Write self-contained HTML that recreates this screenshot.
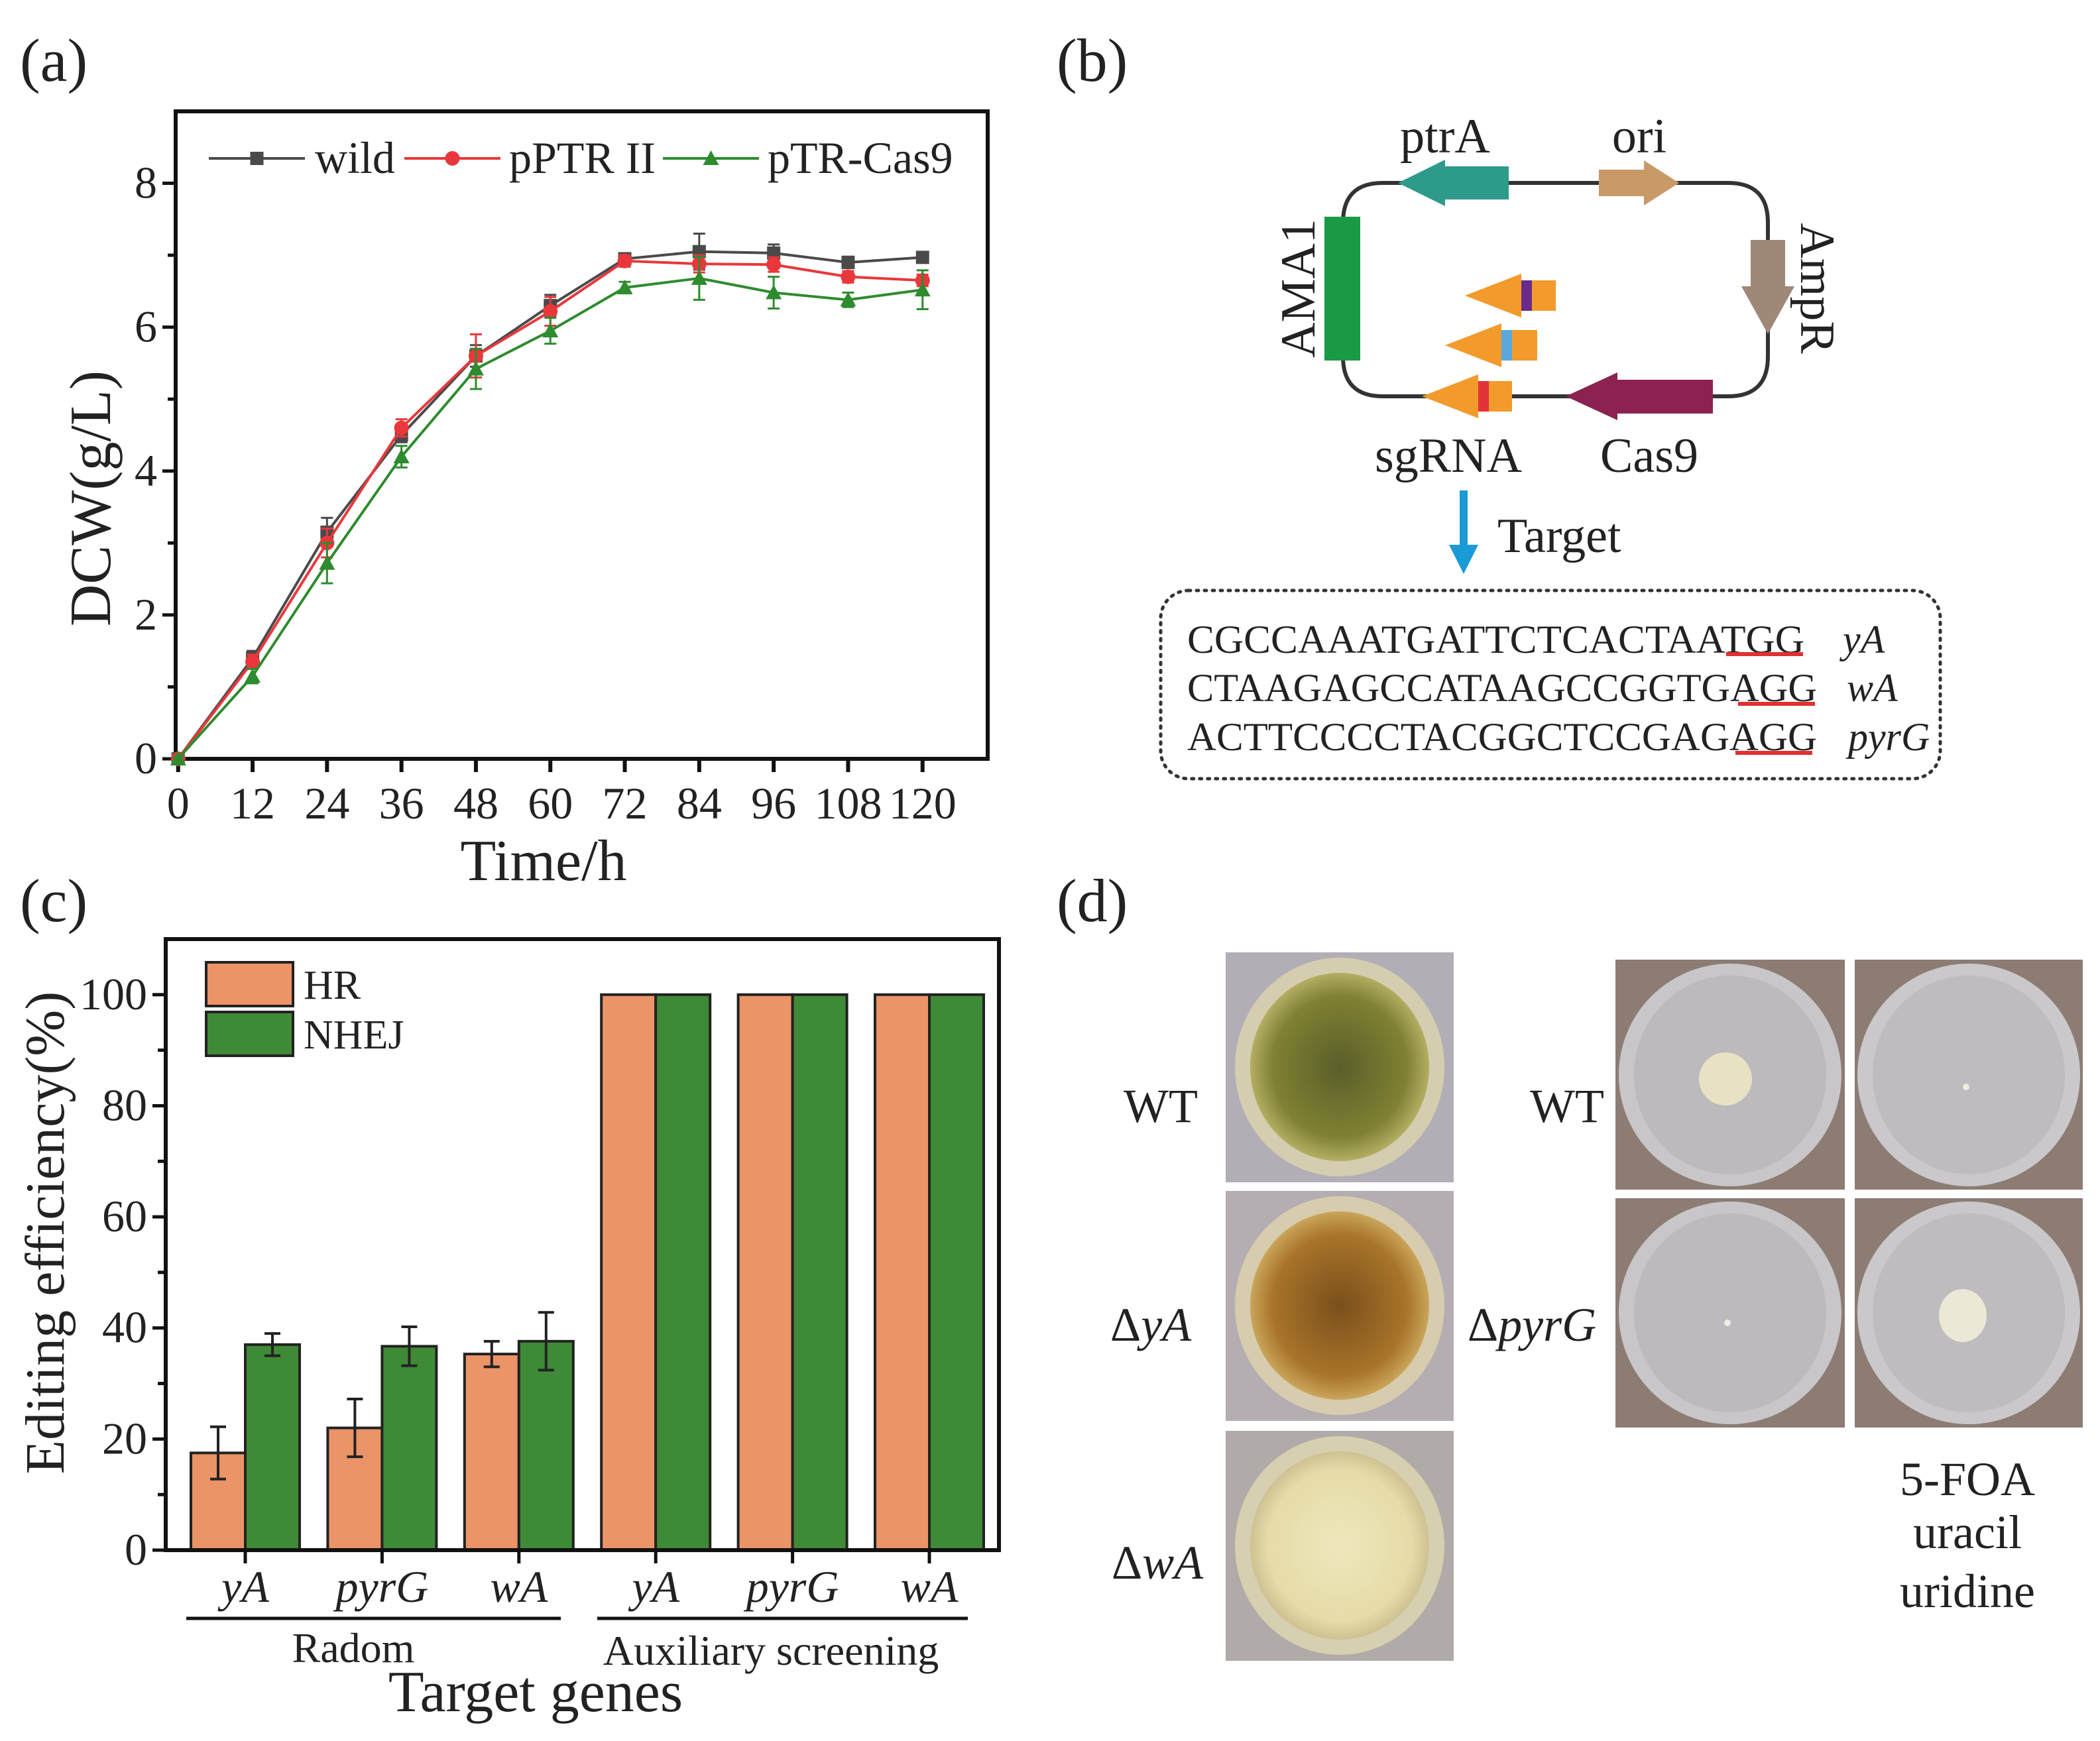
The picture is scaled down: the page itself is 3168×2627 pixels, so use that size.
<!DOCTYPE html>
<html><head><meta charset="utf-8"><style>
html,body{margin:0;padding:0;background:#fff}
svg{display:block}
svg text, svg tspan{font-family:"Liberation Serif","Times New Roman",serif !important;fill:#222}
</style></head><body>
<svg id="fig" width="3168" height="2627" viewBox="0 0 3168 2627" xmlns="http://www.w3.org/2000/svg" font-family="Liberation Serif, serif">
<defs>
<radialGradient id="gWT" cx="50%" cy="50%" r="50%"><stop offset="0" stop-color="#5a5e2a"/><stop offset="0.75" stop-color="#7f8132"/><stop offset="1" stop-color="#b4ae62"/></radialGradient>
<radialGradient id="gYA" cx="50%" cy="50%" r="50%"><stop offset="0" stop-color="#7a4f1c"/><stop offset="0.75" stop-color="#a8742a"/><stop offset="1" stop-color="#c9a55a"/></radialGradient>
<radialGradient id="gWA" cx="50%" cy="50%" r="50%"><stop offset="0" stop-color="#efe6bc"/><stop offset="0.8" stop-color="#e6dca8"/><stop offset="1" stop-color="#cfc192"/></radialGradient>
</defs>
<g id="panelA"></g>
<g id="panelB">
<text x="1594" y="122" font-size="92">(b)</text>
<path d="M2100 276 H2086 Q2026 276 2026 336 V538 Q2026 598 2086 598 H2607 Q2667 598 2667 538 V336 Q2667 276 2607 276 Z" fill="none" stroke="#333" stroke-width="6"/>
<rect x="1998" y="327" width="54" height="217" fill="#1a9a44"/>
<polygon points="2109,276 2180,241 2180,251 2276,251 2276,301 2180,301 2180,311" fill="#2e9a8a"/>
<polygon points="2412,256 2480,256 2480,242 2533,276 2480,310 2480,296 2412,296" fill="#c89a68"/>
<polygon points="2641,362 2693,362 2693,432 2707,432 2667,504 2627,432 2641,432" fill="#a08878"/>
<polygon points="2362,598 2440,562 2440,573 2584,573 2584,624 2440,624 2440,634" fill="#8b2252"/>
<g>
<polygon points="2145,598 2230,565 2230,575 2281,575 2281,621 2230,621 2230,631" fill="#f39a2c"/>
<rect x="2230" y="575" width="16" height="46" fill="#e2333a"/>
<polygon points="2180,521 2265,488 2265,498 2319,498 2319,544 2265,544 2265,554" fill="#f39a2c"/>
<rect x="2265" y="498" width="16" height="46" fill="#5aa8dc"/>
<polygon points="2210,446 2295,413 2295,423 2347,423 2347,469 2295,469 2295,479" fill="#f39a2c"/>
<rect x="2295" y="423" width="16" height="46" fill="#6a2a8a"/>
</g>
<text x="2180" y="230" font-size="74" text-anchor="middle">ptrA</text>
<text x="2473" y="230" font-size="74" text-anchor="middle">ori</text>
<text transform="translate(1983,435) rotate(-90)" font-size="74" text-anchor="middle">AMA1</text>
<text transform="translate(2717,435) rotate(90)" font-size="74" text-anchor="middle">AmpR</text>
<text x="2185" y="712" font-size="74" text-anchor="middle">sgRNA</text>
<text x="2488" y="712" font-size="74" text-anchor="middle">Cas9</text>
<line x1="2208" y1="740" x2="2208" y2="835" stroke="#1a9ad6" stroke-width="12"/>
<polygon points="2186,822 2230,822 2208,866" fill="#1a9ad6"/>
<text x="2259" y="833" font-size="74">Target</text>
<rect x="1751" y="891" width="1176" height="284" rx="42" fill="none" stroke="#333" stroke-width="5" stroke-dasharray="3,9" stroke-linecap="round"/>
<g font-size="60">
<text x="1791" y="985" textLength="931" lengthAdjust="spacingAndGlyphs">CGCCAAATGATTCTCACTAATGG</text>
<text x="2780" y="985" font-style="italic">yA</text>
<text x="1791" y="1058" textLength="950" lengthAdjust="spacingAndGlyphs">CTAAGAGCCATAAGCCGGTGAGG</text>
<text x="2786" y="1058" font-style="italic">wA</text>
<text x="1791" y="1132" textLength="950" lengthAdjust="spacingAndGlyphs">ACTTCCCCTACGGCTCCGAGAGG</text>
<text x="2788" y="1132" font-style="italic">pyrG</text>
</g>
<line x1="2604" y1="987" x2="2720" y2="987" stroke="#e03030" stroke-width="6"/>
<line x1="2622" y1="1062" x2="2738" y2="1062" stroke="#e03030" stroke-width="6"/>
<line x1="2618" y1="1136" x2="2734" y2="1136" stroke="#e03030" stroke-width="6"/>
</g>
<g id="panelC"></g>
<g id="panelD">
<text x="1594" y="1390" font-size="92">(d)</text>
<g><rect x="1849" y="1437" width="344" height="347" fill="#b2aeb6"/><ellipse cx="2021" cy="1610" rx="158" ry="165" fill="#d4cdb0"/><ellipse cx="2021" cy="1610" rx="135" ry="142" fill="url(#gWT)"/></g>
<g><rect x="1849" y="1797" width="344" height="347" fill="#b4aeb2"/><ellipse cx="2021" cy="1970" rx="158" ry="165" fill="#d8ccae"/><ellipse cx="2021" cy="1970" rx="135" ry="142" fill="url(#gYA)"/></g>
<g><rect x="1849" y="2159" width="344" height="347" fill="#b0aaa8"/><ellipse cx="2021" cy="2332" rx="158" ry="165" fill="#d6cfb0"/><ellipse cx="2021" cy="2332" rx="135" ry="142" fill="url(#gWA)"/></g>
<g><rect x="2437" y="1448" width="346" height="347" fill="#8c7c74"/><ellipse cx="2610" cy="1622" rx="168" ry="168" fill="#c8c6c8"/><ellipse cx="2610" cy="1622" rx="145" ry="150" fill="#bcbabc"/><circle cx="2603" cy="1628" r="40" fill="#e8e2c4"/></g>
<g><rect x="2798" y="1448" width="344" height="347" fill="#8c7c74"/><ellipse cx="2970" cy="1622" rx="168" ry="168" fill="#cac8ca"/><ellipse cx="2970" cy="1622" rx="145" ry="150" fill="#bebcbe"/><circle cx="2966" cy="1640" r="5" fill="#f0eee0"/></g>
<g><rect x="2437" y="1808" width="346" height="346" fill="#8c7c74"/><ellipse cx="2610" cy="1981" rx="168" ry="168" fill="#c8c6c8"/><ellipse cx="2610" cy="1981" rx="145" ry="150" fill="#bcbabc"/><circle cx="2606" cy="1996" r="5" fill="#f0eee0"/></g>
<g><rect x="2798" y="1808" width="344" height="346" fill="#8c7c74"/><ellipse cx="2970" cy="1981" rx="168" ry="168" fill="#cac8ca"/><ellipse cx="2970" cy="1981" rx="145" ry="150" fill="#bebcbe"/><ellipse cx="2961" cy="1985" rx="36" ry="40" fill="#ece8d8"/></g>
<g font-size="72" text-anchor="middle">
<text x="1751" y="1693">WT</text>
<text x="1736" y="2023">Δ<tspan font-style="italic">yA</tspan></text>
<text x="1746" y="2382">Δ<tspan font-style="italic">wA</tspan></text>
<text x="2364" y="1693">WT</text>
<text x="2311" y="2023">Δ<tspan font-style="italic">pyrG</tspan></text>
<text x="2968" y="2256">5-FOA</text>
<text x="2968" y="2336">uracil</text>
<text x="2968" y="2425">uridine</text>
</g>
</g>
</svg>
<script>
const NS="http://www.w3.org/2000/svg";
function mk(parent,tag,attrs,txt){const e=document.createElementNS(NS,tag);for(const k in attrs)e.setAttribute(k,attrs[k]);if(txt!==undefined)e.textContent=txt;parent.appendChild(e);return e;}

// ---------- Panel A data ----------
const timeH=[0,12,24,36,48,60,72,84,96,108,120];
const wildVals=[0,1.4,3.15,4.5,5.6,6.3,6.95,7.05,7.03,6.9,6.97];
const wildErr=[0.03,0.1,0.2,0.1,0.15,0.15,0.08,0.25,0.12,0.08,0.06];
const pptrVals=[0,1.35,3.0,4.6,5.6,6.22,6.92,6.88,6.87,6.7,6.65];
const pptrErr=[0.03,0.1,0.2,0.12,0.3,0.2,0.08,0.12,0.1,0.08,0.08];
const cas9Vals=[0,1.15,2.72,4.2,5.42,5.95,6.55,6.68,6.48,6.38,6.52];
const cas9Err=[0.03,0.1,0.28,0.15,0.28,0.18,0.08,0.3,0.22,0.1,0.27];
const xTicksA=[0,12,24,36,48,60,72,84,96,108,120];
const yTicksA=[0,2,4,6,8];

const A=document.getElementById('panelA');
const aL=265,aR=1490,aT=168,aB=1145,xMinA=-0.4,xMaxA=130.5,yMaxA=9;
const ax=v=>aL+(v-xMinA)/(xMaxA-xMinA)*(aR-aL);
const ay=v=>aB-v/yMaxA*(aB-aT);
let t=mk(A,'text',{x:30,y:122,'font-size':92});t.textContent='(a)';


const boxA=mk(A,'rect',{x:aL,y:aT,width:aR-aL,height:aB-aT,fill:'none',stroke:'#111','stroke-width':6});


xTicksA.forEach(v=>{
  mk(A,'line',{x1:ax(v),y1:aB,x2:ax(v),y2:aB+20,stroke:'#111','stroke-width':6});
  const l=mk(A,'text',{x:ax(v),y:aB+90,'font-size':68,'text-anchor':'middle'},String(v));
  
  
});
for(let v=0;v<=8;v++){mk(A,'line',{x1:aL,y1:ay(v),x2:aL-(v%2===0?20:12),y2:ay(v),stroke:'#111','stroke-width':5});}
yTicksA.forEach(v=>{
  const l=mk(A,'text',{x:aL-28,y:ay(v)+22,'font-size':68,'text-anchor':'end'},String(v));
  
  
});
t=mk(A,'text',{x:820,y:1328,'font-size':88,'text-anchor':'middle'},'Time/h');


t=mk(A,'text',{transform:'translate(166,752) rotate(-90)','font-size':88,'text-anchor':'middle'},'DCW(g/L)');



function marker(g,type,x,y,c){
  if(type==='sq')return mk(g,'rect',{x:x-10,y:y-10,width:20,height:20,fill:c});
  if(type==='ci')return mk(g,'circle',{cx:x,cy:y,r:11,fill:c});
  return mk(g,'polygon',{points:`${x},${y-12} ${x+12},${y+10} ${x-12},${y+10}`,fill:c});
}
const seriesA=[
  {name:'wild',vals:wildVals,err:wildErr,col:'#4a4a4a',m:'sq'},
  {name:'pPTR II',vals:pptrVals,err:pptrErr,col:'#e8383c',m:'ci'},
  {name:'pTR-Cas9',vals:cas9Vals,err:cas9Err,col:'#2e8b2e',m:'tr'}];
seriesA.forEach(s=>{
  const g=mk(A,'g',{});
  
  
  const pts=timeH.map((h,i)=>ax(h)+','+ay(s.vals[i])).join(' ');
  mk(g,'polyline',{points:pts,fill:'none',stroke:s.col,'stroke-width':4});
  timeH.forEach((h,i)=>{
    const x=ax(h),y1=ay(s.vals[i]+s.err[i]),y2=ay(s.vals[i]-s.err[i]);
    mk(g,'line',{x1:x,y1:y1,x2:x,y2:y2,stroke:s.col,'stroke-width':3});
    mk(g,'line',{x1:x-9,y1:y1,x2:x+9,y2:y1,stroke:s.col,'stroke-width':3});
    mk(g,'line',{x1:x-9,y1:y2,x2:x+9,y2:y2,stroke:s.col,'stroke-width':3});
    const p=marker(g,s.m,x,ay(s.vals[i]),s.col);
    
    
  });
});
const legX=[[315,460,475],[610,755,768],[1000,1145,1158]];
seriesA.forEach((s,i)=>{
  const g=mk(A,'g',{});
  
  
  const [x1,x2,tx]=legX[i],y=239;
  mk(g,'line',{x1:x1,y1:y,x2:x2,y2:y,stroke:s.col,'stroke-width':4});
  marker(g,s.m,(x1+x2)/2,y,s.col);
  mk(g,'text',{x:tx,y:y+22,'font-size':68},s.name);
});

// ---------- Panel C data ----------
const genes=['yA','pyrG','wA','yA','pyrG','wA'];
const hrVals=[17.5,22,35.3,100,100,100];
const hrErr=[4.7,5.2,2.3,0,0,0];
const nhejVals=[37,36.7,37.6,100,100,100];
const nhejErr=[2,3.5,5.2,0,0,0];
const yTicksC=[0,20,40,60,80,100];

const C=document.getElementById('panelC');
const cL=250,cR=1507,cT=1417,cB=2339,yMaxC=110;
const cy=v=>cB-v/yMaxC*(cB-cT);
const cx=i=>370+i*206.4;
const bw=82;
t=mk(C,'text',{x:30,y:1390,'font-size':92},'(c)');


genes.forEach((g,i)=>{
  const x=cx(i);
  const b1=mk(C,'rect',{x:x-bw,y:cy(hrVals[i]),width:bw,height:cB-cy(hrVals[i]),fill:'#ea9468',stroke:'#222','stroke-width':4});
  
  
  const b2=mk(C,'rect',{x:x,y:cy(nhejVals[i]),width:bw,height:cB-cy(nhejVals[i]),fill:'#3f8a36',stroke:'#222','stroke-width':4});
  
  
  [[x-bw/2,hrVals[i],hrErr[i]],[x+bw/2,nhejVals[i],nhejErr[i]]].forEach(([ex,v,e])=>{
    if(!e)return;
    mk(C,'line',{x1:ex,y1:cy(v+e),x2:ex,y2:cy(v-e),stroke:'#222','stroke-width':4});
    mk(C,'line',{x1:ex-12,y1:cy(v+e),x2:ex+12,y2:cy(v+e),stroke:'#222','stroke-width':4});
    mk(C,'line',{x1:ex-12,y1:cy(v-e),x2:ex+12,y2:cy(v-e),stroke:'#222','stroke-width':4});
  });
  mk(C,'line',{x1:x,y1:cB,x2:x,y2:cB+20,stroke:'#111','stroke-width':5});
  const l=mk(C,'text',{x:x,y:cB+78,'font-size':68,'text-anchor':'middle','font-style':'italic'},g);
  
  
});
const boxC=mk(C,'rect',{x:cL,y:cT,width:cR-cL,height:cB-cT,fill:'none',stroke:'#111','stroke-width':6});


for(let v=0;v<=100;v+=10){mk(C,'line',{x1:cL,y1:cy(v),x2:cL-(v%20===0?20:12),y2:cy(v),stroke:'#111','stroke-width':5});}
yTicksC.forEach(v=>{
  const l=mk(C,'text',{x:cL-28,y:cy(v)+22,'font-size':68,'text-anchor':'end'},String(v));
  
  
});
t=mk(C,'text',{transform:'translate(96,1860) rotate(-90)','font-size':84,'text-anchor':'middle'},'Editing efficiency(%)');


mk(C,'line',{x1:281,y1:2442,x2:846,y2:2442,stroke:'#111','stroke-width':5});
mk(C,'line',{x1:901,y1:2442,x2:1460,y2:2442,stroke:'#111','stroke-width':5});
t=mk(C,'text',{x:533,y:2508,'font-size':64,'text-anchor':'middle'},'Radom');


t=mk(C,'text',{x:1163,y:2512,'font-size':64,'text-anchor':'middle'},'Auxiliary screening');


t=mk(C,'text',{x:808,y:2582,'font-size':88,'text-anchor':'middle'},'Target genes');


[['HR','#ea9468',1452],['NHEJ','#3f8a36',1527]].forEach(([n,c,y])=>{
  const g=mk(C,'g',{});
  
  
  mk(g,'rect',{x:311,y:y,width:131,height:66,fill:c,stroke:'#222','stroke-width':4});
  mk(g,'text',{x:458,y:y+55,'font-size':62},n);
});
</script>
</body></html>
